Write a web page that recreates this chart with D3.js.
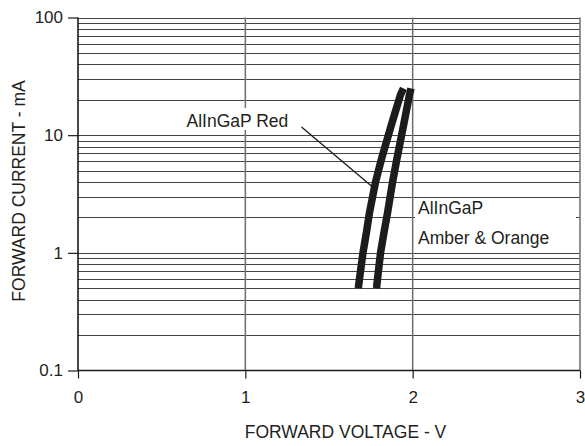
<!DOCTYPE html>
<html>
<head>
<meta charset="utf-8">
<script src="https://cdn.jsdelivr.net/npm/d3@7"></script>
<style>
    body { margin: 0; background: #fff; }
    text { font-family: "Liberation Sans", Arial, sans-serif; fill: #231f20; }
</style>
</head>
<body>
<svg id="chart" width="585" height="446"></svg>
<script>
// forward current (mA) sampled along both curves
const currentMA = [0.5, 0.6, 1, 1.5, 2.2, 4, 6.3, 12, 22, 25];
// forward voltage (V) for each current above
const redVoltage = [1.675, 1.682, 1.703, 1.724, 1.742, 1.778, 1.814, 1.871, 1.927, 1.945];
const amberVoltage = [1.784, 1.790, 1.808, 1.829, 1.850, 1.880, 1.906, 1.945, 1.981, 1.99];

const xTicks = [0, 1, 2, 3];
const yTicks = [0.1, 1, 10, 100];
const yTickLabels = ["0.1", "1", "10", "100"];

const xTitle = "FORWARD VOLTAGE - V";
const yTitle = "FORWARD CURRENT - mA";
const redLabel = "AlInGaP Red";
const amberLabel = ["AlInGaP", "Amber & Orange"];

const svg = d3.select('#chart');

/** plot box */
const plot = {
    "left": 78,
    "right": 580,
    "top": 17.5,
    "bottom": 370.5
};

const x = d3.scaleLinear()
    .domain([0, 3])
    .range([plot.left, plot.right]);

const y = d3.scaleLog()
    .domain([0.1, 100])
    .range([plot.bottom, plot.top]);

// horizontal grid, 1..9 in every decade
const gridY = y.ticks().filter(d => d > 0.1);
svg.append('g')
    .selectAll('line')
    .data(gridY)
    .join('line')
    .attr('x1', plot.left)
    .attr('x2', plot.right)
    .attr('y1', d => Math.round(y(d)) + 0.5)
    .attr('y2', d => Math.round(y(d)) + 0.5)
    .attr('stroke', '#444')
    .attr('stroke-width', 1.1);

// vertical grid at 1, 2 and the right edge
svg.append('g')
    .selectAll('line')
    .data(xTicks.slice(1))
    .join('line')
    .attr('x1', d => x(d))
    .attr('x2', d => x(d))
    .attr('y1', plot.top)
    .attr('y2', plot.bottom)
    .attr('stroke', '#6e6e6e')
    .attr('stroke-width', 1.5);

// y axis (ticks to the left)
const yAxis = d3.axisLeft(y)
    .tickValues(yTicks)
    .tickFormat((d, i) => yTickLabels[i])
    .tickSize(10)
    .tickPadding(5);

const gy = svg.append('g')
    .attr('transform', 'translate(' + plot.left + ',0)')
    .call(yAxis);
gy.select('.domain')
    .attr('d', 'M0,' + plot.top + 'V' + plot.bottom)
    .attr('stroke', '#1a1a1a')
    .attr('stroke-width', 1.6);
gy.selectAll('.tick line').attr('stroke', '#1a1a1a').attr('stroke-width', 1.2);
gy.selectAll('.tick text')
    .attr('font-size', 17)
    .attr('font-family', '"Liberation Sans", Arial, sans-serif')
    .attr('fill', '#231f20');

// x axis
const xAxis = d3.axisBottom(x)
    .tickValues(xTicks)
    .tickFormat(d3.format('d'))
    .tickSize(8)
    .tickPadding(12);

const gx = svg.append('g')
    .attr('transform', 'translate(0,' + plot.bottom + ')')
    .call(xAxis);
gx.select('.domain')
    .attr('d', 'M' + plot.left + ',0H' + plot.right)
    .attr('stroke', '#1a1a1a')
    .attr('stroke-width', 1.6);
gx.selectAll('.tick line').attr('stroke', '#1a1a1a').attr('stroke-width', 1.2);
gx.selectAll('.tick text')
    .attr('font-size', 17)
    .attr('font-family', '"Liberation Sans", Arial, sans-serif')
    .attr('fill', '#231f20');

// axis titles
svg.append('text')
    .attr('x', 345.5)
    .attr('y', 438)
    .attr('text-anchor', 'middle')
    .attr('font-size', 17.5)
    .text(xTitle);

svg.append('text')
    .attr('transform', 'translate(24.5,191) rotate(-90)')
    .attr('text-anchor', 'middle')
    .attr('font-size', 17.5)
    .text(yTitle);

// label boxes hide the grid under the text
svg.append('rect')
    .attr('x', 184).attr('y', 108)
    .attr('width', 108).attr('height', 22)
    .attr('fill', '#fff');
svg.append('rect')
    .attr('x', 415).attr('y', 200)
    .attr('width', 161).attr('height', 48)
    .attr('fill', '#fff');

// the two curves
const line = d3.line()
    .x(d => x(d[0]))
    .y(d => y(d[1]));

const series = [
    redVoltage.map((v, i) => [v, currentMA[i]]),
    amberVoltage.map((v, i) => [v, currentMA[i]])
];

svg.append('g')
    .selectAll('path')
    .data(series)
    .join('path')
    .attr('d', line)
    .attr('fill', 'none')
    .attr('stroke', '#1c1c1c')
    .attr('stroke-width', 7.5)
    .attr('stroke-linejoin', 'miter');

// annotations
svg.append('text')
    .attr('x', 186.5)
    .attr('y', 126.5)
    .attr('font-size', 17.5)
    .text(redLabel);

svg.append('line')
    .attr('x1', 301.5).attr('y1', 127)
    .attr('x2', 372).attr('y2', 186.5)
    .attr('stroke', '#1a1a1a')
    .attr('stroke-width', 1.3);

svg.append('g')
    .selectAll('text')
    .data(amberLabel)
    .join('text')
    .attr('x', 418)
    .attr('y', (d, i) => 213.5 + i * 30)
    .attr('font-size', 17.5)
    .text(d => d);
</script>
</body>
</html>
